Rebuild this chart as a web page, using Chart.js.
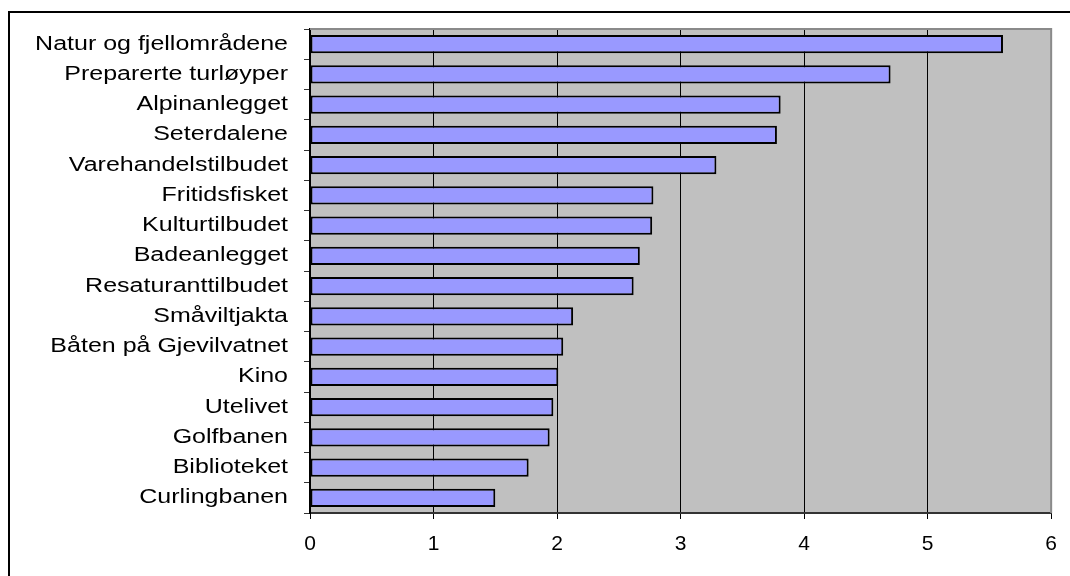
<!DOCTYPE html>
<html>
<head>
<meta charset="utf-8">
<script src="https://cdn.jsdelivr.net/npm/chart.js@4/dist/chart.umd.min.js"></script>
<style>
  html, body { margin: 0; padding: 0; background: #fff; overflow: hidden; }
  #frame { position: absolute; left: 8px; top: 11px; width: 2000px; height: 2000px; border: 2px solid #000; }
  #chart { position: absolute; left: 0; top: 0; }
</style>
</head>
<body>
<div id="frame"></div>
<canvas id="chart" width="1070" height="576"></canvas>
<script>
// Categories (top to bottom)
const places = [
  "Natur og fjellområdene", "Preparerte turløyper", "Alpinanlegget", "Seterdalene",
  "Varehandelstilbudet", "Fritidsfisket", "Kulturtilbudet", "Badeanlegget",
  "Resaturanttilbudet", "Småviltjakta", "Båten på Gjevilvatnet", "Kino",
  "Utelivet", "Golfbanen", "Biblioteket", "Curlingbanen"
]

// Scores
const scores = [5.61, 4.70, 3.81, 3.78, 3.29, 2.78, 2.77, 2.67, 2.62, 2.13, 2.05, 2.01, 1.97, 1.94, 1.77, 1.50]

// X axis ticks
const xTicks = [0, 1, 2, 3, 4, 5, 6]

Chart.defaults.font.family = "'Liberation Sans', Arial, sans-serif"
Chart.defaults.font.size = 20
Chart.defaults.color = "#000"

// The original picture has its text a bit wide, so stretch the category labels
// sideways around their right edge
const wideLabels = {
  id: "wideLabels",
  afterLayout(chart) {
    const scale = chart.scales.y
    if (scale._wrapped) return
    const orig = scale.drawLabels.bind(scale)
    scale.drawLabels = function (area) {
      const ctx = chart.ctx
      const right = scale.right - scale.options.grid.tickLength - scale.options.ticks.padding
      ctx.save()
      ctx.translate(right, 0)
      ctx.scale(1.25, 1)
      ctx.translate(-right, 0)
      orig(area)
      ctx.restore()
    }
    scale._wrapped = true
  },
}

// Gray plot background and the thin gray top/right frame
const plotFrame = {
  id: "plotFrame",
  beforeDraw(chart) {
    const { ctx, chartArea: a } = chart
    ctx.save()
    ctx.fillStyle = "#C0C0C0"
    ctx.fillRect(a.left, a.top, a.right - a.left, a.bottom - a.top)
    ctx.restore()
  },
  afterDraw(chart) {
    const { ctx, chartArea: a } = chart
    ctx.save()
    ctx.strokeStyle = "#8a8a8a"
    ctx.lineWidth = 2
    ctx.beginPath()
    ctx.moveTo(a.left, a.top)
    ctx.lineTo(a.right, a.top)
    ctx.lineTo(a.right, a.bottom)
    ctx.stroke()
    ctx.restore()
  },
}

new Chart(document.getElementById("chart"), {
  type: "bar",
  data: {
    labels: places,
    datasets: [
      {
        data: scores,
        backgroundColor: "#9999FF",
        borderColor: "#000",
        borderWidth: 2,
        borderSkipped: false,
        barPercentage: 0.6,
        categoryPercentage: 1,
      },
    ],
  },
  options: {
    indexAxis: "y",
    responsive: false,
    animation: false,
    devicePixelRatio: 1,
    layout: { padding: { top: 29, right: 14, bottom: 0, left: 0 } },
    plugins: {
      legend: { display: false },
      tooltip: { enabled: false },
    },
    scales: {
      x: {
        min: xTicks[0],
        max: xTicks[xTicks.length - 1],
        afterBuildTicks: (scale) => {
          scale.ticks = xTicks.map((v) => ({ value: v }))
        },
        afterFit: (scale) => {
          scale.height = 63
        },
        grid: { color: "#000", lineWidth: 1, tickLength: 6 },
        border: { color: "#333", width: 2 },
        ticks: { padding: 13, font: { size: 21 } },
      },
      y: {
        afterFit: (scale) => {
          scale.width = 310
        },
        grid: { drawOnChartArea: false, color: "#333", lineWidth: 1, tickLength: 6, offset: true },
        border: { color: "#000", width: 2 },
        ticks: { padding: 16 },
      },
    },
  },
  plugins: [plotFrame, wideLabels],
})
</script>
</body>
</html>
